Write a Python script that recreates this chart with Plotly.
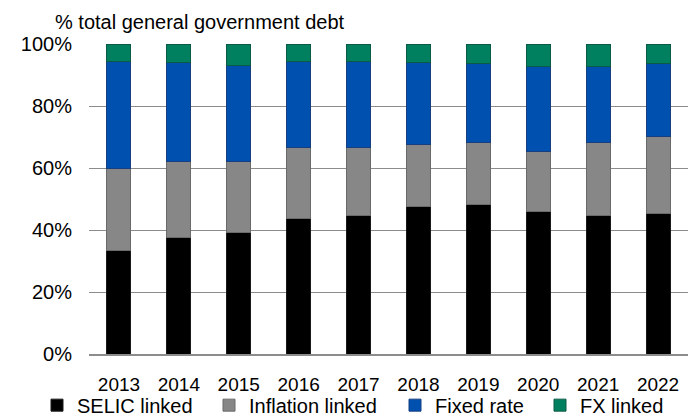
import plotly.graph_objects as go

years = ["2013", "2014", "2015", "2016", "2017", "2018", "2019", "2020", "2021", "2022"]
selic = [33.3, 37.6, 39.2, 43.8, 44.8, 47.5, 48.1, 46.0, 44.7, 45.3]
inflation = [26.6, 24.6, 23.0, 22.7, 21.8, 20.2, 20.1, 19.2, 23.5, 24.8]
fixed = [34.5, 31.8, 30.8, 27.8, 27.9, 26.3, 25.4, 27.6, 24.6, 23.5]
fx = [5.6, 6.0, 7.0, 5.7, 5.5, 6.0, 6.4, 7.2, 7.2, 6.4]

series = [
    ("SELIC linked", selic, "#000000", "#1a1a1a", "legend", 37),
    ("Inflation linked", inflation, "#878787", "#6a6a6a", "legend2", 209),
    ("Fixed rate", fixed, "#0050B0", "#173f80", "legend3", 395),
    ("FX linked", fx, "#00805F", "#0b5a45", "legend4", 540),
]

W, H = 698, 419
font = "Liberation Sans, Arial, sans-serif"

fig = go.Figure()
legends = {}
for name, vals, col, lc, lg, lx in series:
    fig.add_trace(go.Bar(x=years, y=vals, name=name, legend=lg,
                         marker=dict(color=col, line=dict(color=lc, width=1))))
    legends[lg] = dict(orientation="h", xref="container", yref="paper",
                       x=lx / W, xanchor="left", y=-0.165, yanchor="middle",
                       bgcolor="rgba(0,0,0,0)", font=dict(size=20, family=font),
                       itemwidth=30, itemclick=False)

fig.update_layout(
    barmode="stack",
    bargap=0.6,
    width=W, height=H,
    margin=dict(l=89, r=10, t=44, b=65, autoexpand=False),
    plot_bgcolor="white", paper_bgcolor="white",
    font=dict(family=font, size=19, color="#000000"),
    showlegend=True,
    yaxis=dict(range=[0, 100], tickvals=[0, 20, 40, 60, 80, 100],
               ticktext=["0%", "20%", "40%", "60%", "80%", "100%"],
               showgrid=True, gridcolor="#8c8c8c", gridwidth=1,
               zeroline=False, showline=False, ticks="",
               ticklabelstandoff=16, tickfont=dict(size=20)),
    xaxis=dict(showline=True, linecolor="#8c8c8c", linewidth=2, ticks="",
               ticklabelstandoff=12, tickfont=dict(size=19)),
    annotations=[dict(text="% total general government debt", xref="paper", yref="paper",
                      x=-0.06, y=1.0, xanchor="left", yanchor="bottom", yshift=9,
                      showarrow=False, font=dict(size=20, family=font))],
    **legends,
)

fig.write_html("out.html")
